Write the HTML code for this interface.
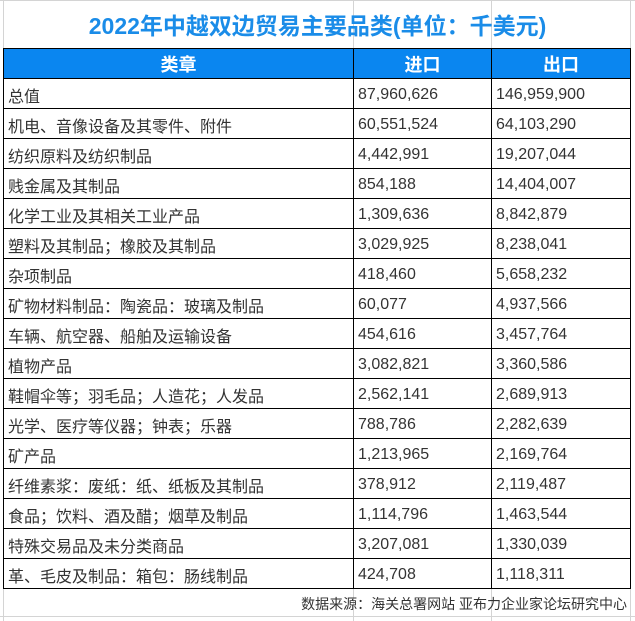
<!DOCTYPE html>
<html><head><meta charset="utf-8"><style>
body{margin:0;width:635px;height:621px;background:#fff;position:relative;overflow:hidden;font-family:"Liberation Sans","Noto Sans CJK SC",sans-serif;}
.vl{position:absolute;top:0;width:1px;height:621px;background:#d4d4d4}
.hl{position:absolute;left:0;width:635px;height:1px;background:#d4d4d4}
.title{position:absolute;left:0;width:635px;top:7px;text-align:center;font-size:23px;font-weight:bold;color:#1a8ce8;}
table{position:absolute;left:3px;top:48px;border-collapse:collapse;background:#fff}
td{border:1px solid #000;height:27px;padding:2px 0 0 4px;font-size:16px;color:#333;white-space:nowrap}
th{border:1px solid #000;height:29px;padding:0;background:#0a86f0;color:#fff;font-size:18px;font-weight:bold}
.foot{position:absolute;right:8px;top:594px;font-size:14px;color:#333}
</style></head><body>
<div class="vl" style="left:3px"></div>
<div class="vl" style="left:353px"></div>
<div class="vl" style="left:491px"></div>
<div class="vl" style="left:630px"></div>
<div class="hl" style="top:0"></div>
<div class="hl" style="top:616px"></div>
<div class="title">2022年中越双边贸易主要品类(单位：千美元)</div>
<table>
<colgroup><col style="width:350px"><col style="width:138px"><col style="width:139px"></colgroup>
<tr><th>类章</th><th>进口</th><th>出口</th></tr>
<tr><td>总值</td><td>87,960,626</td><td>146,959,900</td></tr>
<tr><td>机电、音像设备及其零件、附件</td><td>60,551,524</td><td>64,103,290</td></tr>
<tr><td>纺织原料及纺织制品</td><td>4,442,991</td><td>19,207,044</td></tr>
<tr><td>贱金属及其制品</td><td>854,188</td><td>14,404,007</td></tr>
<tr><td>化学工业及其相关工业产品</td><td>1,309,636</td><td>8,842,879</td></tr>
<tr><td>塑料及其制品；橡胶及其制品</td><td>3,029,925</td><td>8,238,041</td></tr>
<tr><td>杂项制品</td><td>418,460</td><td>5,658,232</td></tr>
<tr><td>矿物材料制品：陶瓷品：玻璃及制品</td><td>60,077</td><td>4,937,566</td></tr>
<tr><td>车辆、航空器、船舶及运输设备</td><td>454,616</td><td>3,457,764</td></tr>
<tr><td>植物产品</td><td>3,082,821</td><td>3,360,586</td></tr>
<tr><td>鞋帽伞等；羽毛品；人造花；人发品</td><td>2,562,141</td><td>2,689,913</td></tr>
<tr><td>光学、医疗等仪器；钟表；乐器</td><td>788,786</td><td>2,282,639</td></tr>
<tr><td>矿产品</td><td>1,213,965</td><td>2,169,764</td></tr>
<tr><td>纤维素浆：废纸：纸、纸板及其制品</td><td>378,912</td><td>2,119,487</td></tr>
<tr><td>食品；饮料、酒及醋；烟草及制品</td><td>1,114,796</td><td>1,463,544</td></tr>
<tr><td>特殊交易品及未分类商品</td><td>3,207,081</td><td>1,330,039</td></tr>
<tr><td>革、毛皮及制品：箱包：肠线制品</td><td>424,708</td><td>1,118,311</td></tr>
</table>
<div class="foot">数据来源：海关总署网站 亚布力企业家论坛研究中心</div>
</body></html>
